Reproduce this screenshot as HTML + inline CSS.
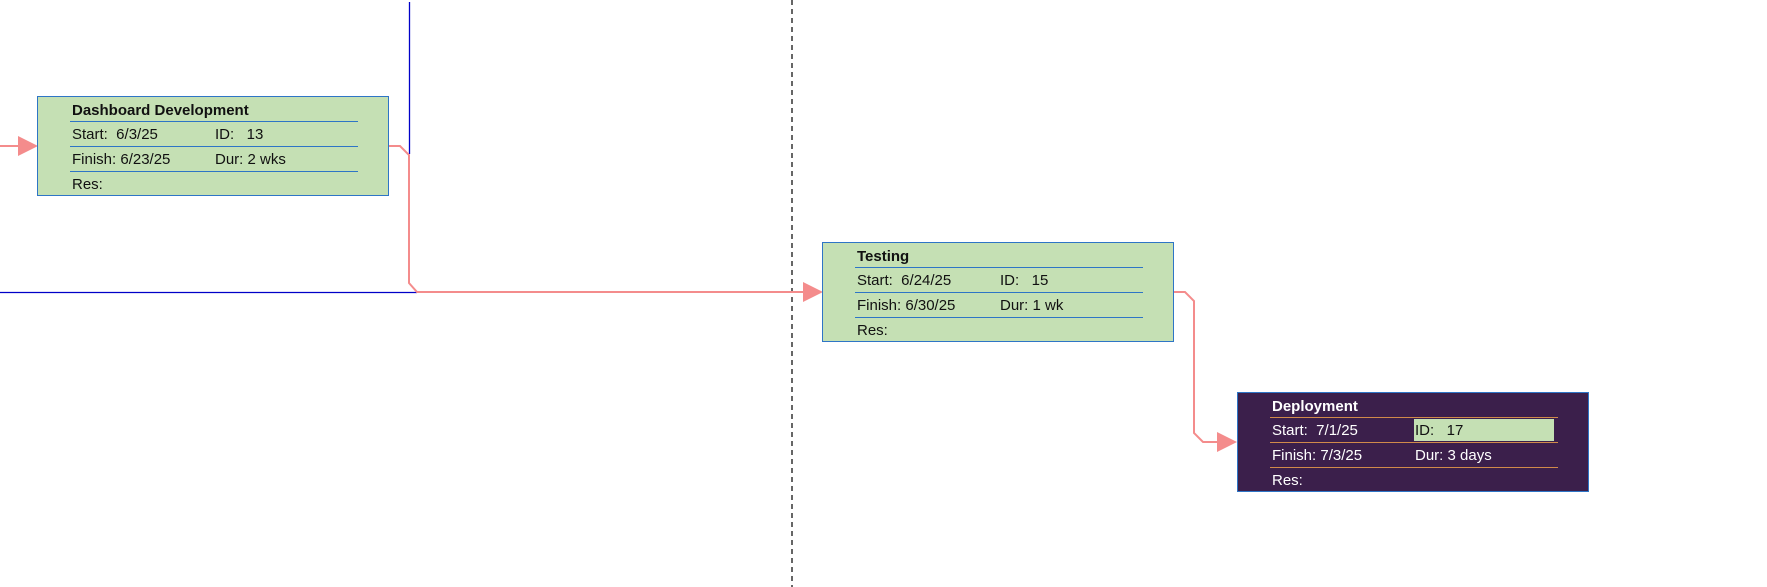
<!DOCTYPE html>
<html><head><meta charset="utf-8"><style>
html,body{margin:0;padding:0;background:#fff;}
body{width:1767px;height:587px;position:relative;overflow:hidden;font-family:"Liberation Sans",sans-serif;font-size:15px;}
.box{position:absolute;width:350px;height:98px;border:1.5px solid #2e75c6;background:#c5e0b4;color:#111;}
.box .t{position:absolute;left:34px;font-weight:bold;}
.box .ln{position:absolute;left:32px;width:288px;height:0;border-top:1.3px solid #2e75c6;}
.box .c{position:absolute;left:34px;white-space:pre;}
.box .c2{position:absolute;left:177px;white-space:pre;}
.dep{background:#3b1f4b;color:#fff;}
.dep .ln{border-top-color:#d08a4a;}
</style></head><body>
<svg width="1767" height="587" style="position:absolute;left:0;top:0">
<line x1="792" y1="0" x2="792" y2="587" stroke="#000" stroke-width="1.2" stroke-dasharray="5,4"/>
<line x1="409.5" y1="2" x2="409.5" y2="154" stroke="#0000c8" stroke-width="1.3"/>
<line x1="0" y1="292.5" x2="417" y2="292.5" stroke="#0000c8" stroke-width="1.3"/>
<g fill="none" stroke="#f48c8c" stroke-width="2">
<polyline points="0,146 22,146"/>
<polyline points="389,146 400,146 409,155 409,283 417,292 810,292"/>
<polyline points="1174,292 1185,292 1194,301 1194,433 1203,442 1222,442"/>
</g>
<g fill="#f48c8c">
<polygon points="18,136 38,146 18,156"/>
<polygon points="803,282 823,292 803,302"/>
<polygon points="1217,432 1237,442 1217,452"/>
</g>
</svg>

<div class="box" style="left:37px;top:96px;">
<div class="t" style="top:5px">Dashboard Development</div>
<div class="ln" style="top:24px"></div>
<div class="c" style="top:29px">Start:  6/3/25</div><div class="c2" style="top:29px">ID:   13</div>
<div class="ln" style="top:49px"></div>
<div class="c" style="top:54px">Finish: 6/23/25</div><div class="c2" style="top:54px">Dur: 2 wks</div>
<div class="ln" style="top:74px"></div>
<div class="c" style="top:79px">Res:</div>
</div>

<div class="box" style="left:822px;top:242px;">
<div class="t" style="top:5px">Testing</div>
<div class="ln" style="top:24px"></div>
<div class="c" style="top:29px">Start:  6/24/25</div><div class="c2" style="top:29px">ID:   15</div>
<div class="ln" style="top:49px"></div>
<div class="c" style="top:54px">Finish: 6/30/25</div><div class="c2" style="top:54px">Dur: 1 wk</div>
<div class="ln" style="top:74px"></div>
<div class="c" style="top:79px">Res:</div>
</div>

<div class="box dep" style="left:1237px;top:392px;">
<div class="t" style="top:5px">Deployment</div>
<div class="ln" style="top:24px"></div>
<div style="position:absolute;left:176px;top:26px;width:140px;height:22px;background:#c5e0b4;"></div>
<div class="c" style="top:29px">Start:  7/1/25</div><div class="c2" style="top:29px;color:#111">ID:   17</div>
<div class="ln" style="top:49px"></div>
<div class="c" style="top:54px">Finish: 7/3/25</div><div class="c2" style="top:54px">Dur: 3 days</div>
<div class="ln" style="top:74px"></div>
<div class="c" style="top:79px">Res:</div>
</div>
</body></html>
